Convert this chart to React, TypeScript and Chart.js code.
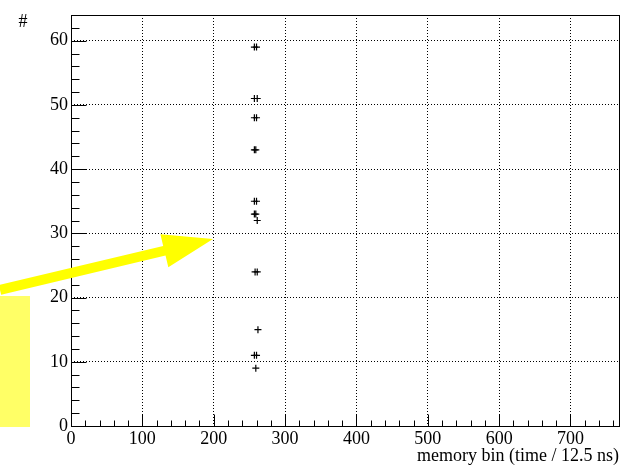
import { useEffect, useRef } from 'react';
import { Chart, registerables } from 'chart.js';

Chart.register(...registerables);

// memory bin of each hit
const hitBin = [
  257, 260, 257, 261, 257, 260, 257, 259, 257, 260, 257, 259, 261,
  258, 261, 262, 257, 260, 259,
];
// channel (#) of each hit
const hitChannel = [
  59, 59, 51, 51, 48, 48, 43, 43, 35, 35, 33, 33, 32,
  24, 24, 15, 11, 11, 9,
];

const xMin = 0;
const xMax = 768;
const yMin = 0;
const yMax = 64;
const xMajorStep = 100;
const xMinorStep = 20;
const yMajorStep = 10;
const yMinorStep = 2;

const xTitle = 'memory bin (time / 12.5 ns)';
const yTitle = '#';

const FONT = "'Liberation Serif', 'Times New Roman', serif";

const rootPlugin = {
  id: 'rootFrame',
  afterDatasetsDraw(chart: any) {
    const { ctx, chartArea } = chart;
    const xs = chart.scales.x;
    const ys = chart.scales.y;
    const L = Math.round(chartArea.left) + 0.5;
    const R = Math.round(chartArea.right) + 0.5;
    const T = Math.round(chartArea.top) + 0.5;
    const B = Math.round(chartArea.bottom) + 0.5;
    ctx.save();
    ctx.strokeStyle = '#000';
    ctx.lineWidth = 1;
    ctx.setLineDash([]);
    ctx.strokeRect(L, T, R - L, B - T);
    ctx.beginPath();
    for (let v = xMin; v <= xMax; v += xMinorStep) {
      const px = Math.round(xs.getPixelForValue(v)) + 0.5;
      const len = v % xMajorStep === 0 ? 12 : 6;
      ctx.moveTo(px, B);
      ctx.lineTo(px, B - len);
    }
    for (let v = yMin; v <= yMax; v += yMinorStep) {
      const py = Math.round(ys.getPixelForValue(v)) + 0.5;
      const len = v % yMajorStep === 0 ? 15 : 8;
      ctx.moveTo(L, py);
      ctx.lineTo(L + len, py);
    }
    ctx.stroke();
    ctx.restore();
  },
  afterDraw(chart: any) {
    const { ctx, chartArea } = chart;
    const xs = chart.scales.x;
    const ys = chart.scales.y;
    ctx.save();
    // y title
    ctx.fillStyle = '#000';
    ctx.font = `18px ${FONT}`;
    ctx.textAlign = 'center';
    ctx.textBaseline = 'middle';
    ctx.fillText(yTitle, chartArea.left - 48, chartArea.top + 7);

    // highlight box (annotation)
    ctx.fillStyle = '#ffff66';
    ctx.fillRect(0, 296, 30, ys.getPixelForValue(0) - 296 + 1);

    // arrow (annotation)
    const tipX = xs.getPixelForValue(199);
    const tipY = ys.getPixelForValue(29.1);
    const sx = 0;
    const sy = 290;
    const dx = tipX - sx;
    const dy = tipY - sy;
    const len = Math.hypot(dx, dy);
    const ux = dx / len;
    const uy = dy / len;
    const nx = -uy;
    const ny = ux;
    const headLen = 50;
    const headHalf = 17;
    const shaftHalf = 5;
    const bx = tipX - ux * headLen;
    const by = tipY - uy * headLen;
    ctx.fillStyle = '#ffff00';
    ctx.beginPath();
    ctx.moveTo(sx + nx * shaftHalf, sy + ny * shaftHalf);
    ctx.lineTo(bx + nx * shaftHalf, by + ny * shaftHalf);
    ctx.lineTo(bx + nx * headHalf, by + ny * headHalf);
    ctx.lineTo(tipX, tipY);
    ctx.lineTo(bx - nx * headHalf, by - ny * headHalf);
    ctx.lineTo(bx - nx * shaftHalf, by - ny * shaftHalf);
    ctx.lineTo(sx - nx * shaftHalf, sy - ny * shaftHalf);
    ctx.closePath();
    ctx.fill();
    ctx.restore();
  },
};

export default function App() {
  const ref = useRef<HTMLCanvasElement | null>(null);
  useEffect(() => {
    if (!ref.current) return;
    const points = hitBin.map((x, i) => ({ x, y: hitChannel[i] }));
    const chart = new Chart(ref.current, {
      type: 'scatter',
      data: {
        datasets: [
          {
            data: points,
            pointStyle: 'cross',
            pointRadius: 3.5,
            pointBorderWidth: 1.2,
            pointBorderColor: '#000',
            pointBackgroundColor: '#000',
            showLine: false,
          },
        ],
      },
      options: {
        responsive: false,
        animation: false,
        events: [],
        layout: { padding: { left: 0, top: 15, right: 8, bottom: 2 } },
        plugins: { legend: { display: false }, tooltip: { enabled: false } },
        scales: {
          x: {
            type: 'linear',
            min: xMin,
            max: xMax,
            afterFit: (s: any) => {
              s.height = 42;
            },
            ticks: {
              stepSize: xMajorStep,
              autoSkip: false,
              maxRotation: 0,
              padding: 2,
              color: '#000',
              font: { family: FONT, size: 18 },
              callback: (v: any) => (Number(v) % xMajorStep === 0 ? String(v) : ''),
            },
            grid: {
              drawTicks: false,
              lineWidth: 1,
              color: (c: any) =>
                c.tick && c.tick.value % xMajorStep === 0 && c.tick.value > xMin && c.tick.value < xMax
                  ? '#000'
                  : 'rgba(0,0,0,0)',
            },
            border: { display: false, dash: [1, 2] },
            title: {
              display: true,
              text: xTitle,
              align: 'end',
              color: '#000',
              font: { family: FONT, size: 18 },
              padding: { top: 0, bottom: 1 },
            },
          },
          y: {
            type: 'linear',
            min: yMin,
            max: yMax,
            afterFit: (s: any) => {
              s.width = 71;
            },
            ticks: {
              stepSize: yMajorStep,
              autoSkip: false,
              padding: 3,
              color: '#000',
              font: { family: FONT, size: 18 },
              callback: (v: any) => (Number(v) % yMajorStep === 0 ? String(v) : ''),
            },
            grid: {
              drawTicks: false,
              lineWidth: 1,
              color: (c: any) =>
                c.tick && c.tick.value % yMajorStep === 0 && c.tick.value > yMin && c.tick.value < yMax
                  ? '#000'
                  : 'rgba(0,0,0,0)',
            },
            border: { display: false, dash: [1, 2] },
          },
        },
      },
      plugins: [rootPlugin],
    });
    return () => chart.destroy();
  }, []);
  return (
    <div style={{ position: 'fixed', left: 0, top: 0, width: 627, height: 470, background: '#fff' }}>
      <canvas ref={ref} width={627} height={470} style={{ display: 'block' }} />
    </div>
  );
}
